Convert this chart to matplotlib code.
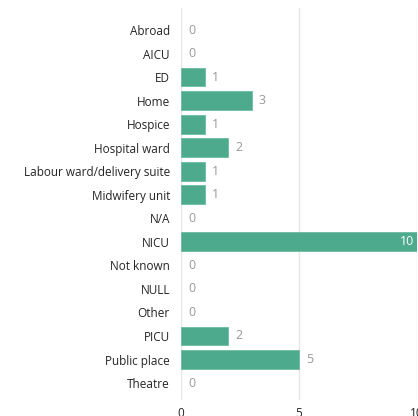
import matplotlib
matplotlib.use("Agg")
import matplotlib.pyplot as plt

categories = ["Abroad", "AICU", "ED", "Home", "Hospice", "Hospital ward",
              "Labour ward/delivery suite", "Midwifery unit", "N/A", "NICU",
              "Not known", "NULL", "Other", "PICU", "Public place", "Theatre"]
values = [0, 0, 1, 3, 1, 2, 1, 1, 0, 10, 0, 0, 0, 2, 5, 0]
xticks = [0, 5, 10]

plt.rcParams['font.family'] = ['Open Sans', 'DejaVu Sans']
W, H = 418, 416
fig = plt.figure(figsize=(W / 100, H / 100), dpi=100)
left, right = 181 / W, 417 / W
top, bottom = 8 / H, 400 / H
ax = fig.add_axes([left, 1 - bottom, right - left, bottom - top])

y = list(range(len(categories)))
edges = ["#6CBBA2" if v > 0 else "none" for v in values]
ax.barh(y, values, height=0.8, color="#4EAA8C", edgecolor=edges, linewidth=0.6, zorder=2)
ax.set_xlim(0, 10)
ax.set_ylim(15.72, -0.935)
ax.set_yticks(y)
ax.set_yticklabels(categories, fontsize=8.5, color="#252525")
ax.set_xticks(xticks)
ax.set_xticklabels([str(t) for t in xticks], fontsize=8.5, color="#252525")
ax.tick_params(axis="both", length=0)
ax.tick_params(axis="y", pad=8)
ax.tick_params(axis="x", pad=5)
for s in ax.spines.values():
    s.set_visible(False)
ax.grid(axis="x", color="#E6E6E6", linewidth=1, zorder=0)
ax.set_axisbelow(True)

for yi, v in zip(y, values):
    if v >= 10:
        ax.text(v - 0.12, yi, str(v), ha="right", va="center", fontsize=9, color="white", zorder=3)
    else:
        ax.text(v + 0.3, yi, str(v), ha="left", va="center", fontsize=9, color="#999999", zorder=3)

fig.savefig("out.png", dpi=100)
